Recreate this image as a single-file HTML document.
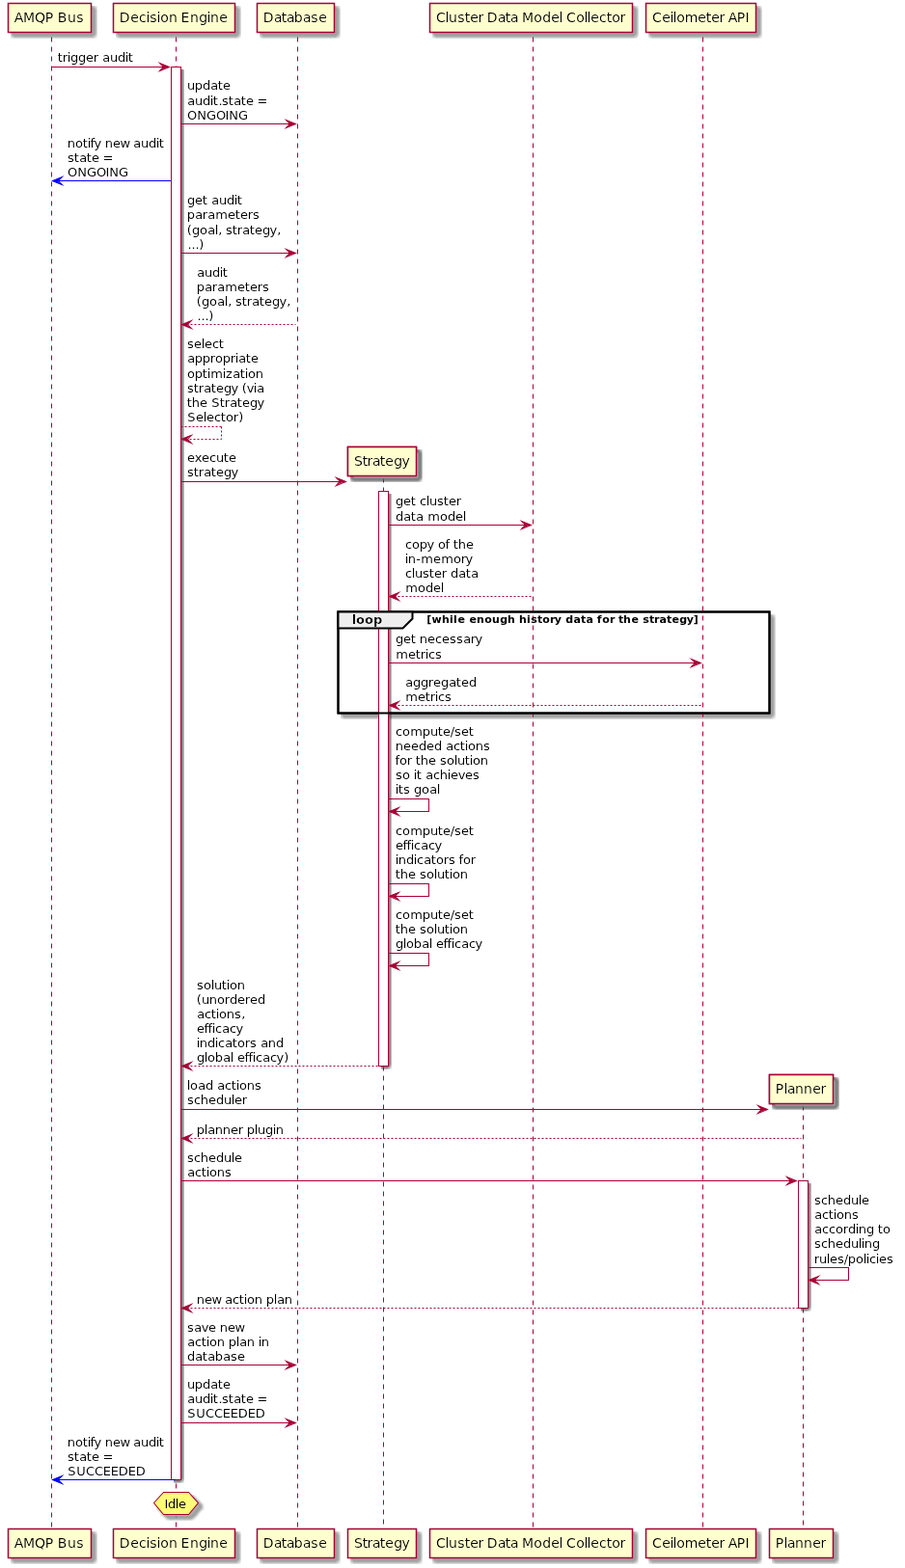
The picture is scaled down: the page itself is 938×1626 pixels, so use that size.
<!DOCTYPE html>
<html lang="en">
<head>
<meta charset="utf-8">
<title>Audit sequence diagram</title>
<style>
html,body{margin:0;padding:0;background:#fff;}
body{width:938px;height:1626px;overflow:hidden;}
svg{display:block;}
text{font-family:"DejaVu Sans","Liberation Sans",sans-serif;fill:#000;white-space:pre;}
.t14n{font-size:14px;}
.t13n{font-size:13px;}
.t13b{font-size:13px;font-weight:bold;}
.t11b{font-size:11px;font-weight:bold;}
</style>
</head>
<body>
<svg width="938" height="1626" viewBox="0 0 938 1626" role="img" aria-label="Audit sequence diagram">
<defs>
<filter id="s0" x="345" y="629" width="472" height="130" filterUnits="userSpaceOnUse" color-interpolation-filters="sRGB"><feOffset in="SourceAlpha" dx="4" dy="4"/><feConvolveMatrix order="6" kernelMatrix="1 1 1 1 1 1 1 1 1 1 1 1 1 1 1 1 1 1 1 1 1 1 1 1 1 1 1 1 1 1 1 1 1 1 1 1" divisor="36" targetX="3" targetY="3" edgeMode="none" preserveAlpha="false"/><feColorMatrix x="353" y="637" width="456" height="114" type="matrix" values="0 0 0 0.6667 0 0 0 0 0.6667 0 0 0 0 0.6667 0 0 0 0 1 0"/></filter>
<filter id="s1" x="172" y="64" width="29" height="1484" filterUnits="userSpaceOnUse" color-interpolation-filters="sRGB"><feOffset in="SourceAlpha" dx="1" dy="1"/><feConvolveMatrix order="6" kernelMatrix="1 1 1 1 1 1 1 1 1 1 1 1 1 1 1 1 1 1 1 1 1 1 1 1 1 1 1 1 1 1 1 1 1 1 1 1" divisor="36" targetX="3" targetY="3" edgeMode="none" preserveAlpha="false"/><feColorMatrix x="180" y="72" width="13" height="1468" type="matrix" values="0 0 0 0.6667 0 0 0 0 0.6667 0 0 0 0 0.6667 0 0 0 0 1 0"/></filter>
<filter id="s2" x="387" y="504" width="29" height="615" filterUnits="userSpaceOnUse" color-interpolation-filters="sRGB"><feOffset in="SourceAlpha" dx="1" dy="1"/><feConvolveMatrix order="6" kernelMatrix="1 1 1 1 1 1 1 1 1 1 1 1 1 1 1 1 1 1 1 1 1 1 1 1 1 1 1 1 1 1 1 1 1 1 1 1" divisor="36" targetX="3" targetY="3" edgeMode="none" preserveAlpha="false"/><feColorMatrix x="395" y="512" width="13" height="599" type="matrix" values="0 0 0 0.6667 0 0 0 0 0.6667 0 0 0 0 0.6667 0 0 0 0 1 0"/></filter>
<filter id="s3" x="822" y="1219" width="29" height="150" filterUnits="userSpaceOnUse" color-interpolation-filters="sRGB"><feOffset in="SourceAlpha" dx="1" dy="1"/><feConvolveMatrix order="6" kernelMatrix="1 1 1 1 1 1 1 1 1 1 1 1 1 1 1 1 1 1 1 1 1 1 1 1 1 1 1 1 1 1 1 1 1 1 1 1" divisor="36" targetX="3" targetY="3" edgeMode="none" preserveAlpha="false"/><feColorMatrix x="830" y="1227" width="13" height="134" type="matrix" values="0 0 0 0.6667 0 0 0 0 0.6667 0 0 0 0 0.6667 0 0 0 0 1 0"/></filter>
<filter id="s4" x="3" y="-2" width="111" height="55" filterUnits="userSpaceOnUse" color-interpolation-filters="sRGB"><feOffset in="SourceAlpha" dx="4" dy="4"/><feConvolveMatrix order="6" kernelMatrix="1 1 1 1 1 1 1 1 1 1 1 1 1 1 1 1 1 1 1 1 1 1 1 1 1 1 1 1 1 1 1 1 1 1 1 1" divisor="36" targetX="3" targetY="3" edgeMode="none" preserveAlpha="false"/><feColorMatrix x="11" y="6" width="95" height="39" type="matrix" values="0 0 0 0.6667 0 0 0 0 0.6667 0 0 0 0 0.6667 0 0 0 0 1 0"/></filter>
<filter id="s5" x="112" y="-2" width="151" height="55" filterUnits="userSpaceOnUse" color-interpolation-filters="sRGB"><feOffset in="SourceAlpha" dx="4" dy="4"/><feConvolveMatrix order="6" kernelMatrix="1 1 1 1 1 1 1 1 1 1 1 1 1 1 1 1 1 1 1 1 1 1 1 1 1 1 1 1 1 1 1 1 1 1 1 1" divisor="36" targetX="3" targetY="3" edgeMode="none" preserveAlpha="false"/><feColorMatrix x="120" y="6" width="135" height="39" type="matrix" values="0 0 0 0.6667 0 0 0 0 0.6667 0 0 0 0 0.6667 0 0 0 0 1 0"/></filter>
<filter id="s6" x="261" y="-2" width="105" height="55" filterUnits="userSpaceOnUse" color-interpolation-filters="sRGB"><feOffset in="SourceAlpha" dx="4" dy="4"/><feConvolveMatrix order="6" kernelMatrix="1 1 1 1 1 1 1 1 1 1 1 1 1 1 1 1 1 1 1 1 1 1 1 1 1 1 1 1 1 1 1 1 1 1 1 1" divisor="36" targetX="3" targetY="3" edgeMode="none" preserveAlpha="false"/><feColorMatrix x="269" y="6" width="89" height="39" type="matrix" values="0 0 0 0.6667 0 0 0 0 0.6667 0 0 0 0 0.6667 0 0 0 0 1 0"/></filter>
<filter id="s7" x="440" y="-2" width="235" height="55" filterUnits="userSpaceOnUse" color-interpolation-filters="sRGB"><feOffset in="SourceAlpha" dx="4" dy="4"/><feConvolveMatrix order="6" kernelMatrix="1 1 1 1 1 1 1 1 1 1 1 1 1 1 1 1 1 1 1 1 1 1 1 1 1 1 1 1 1 1 1 1 1 1 1 1" divisor="36" targetX="3" targetY="3" edgeMode="none" preserveAlpha="false"/><feColorMatrix x="448" y="6" width="219" height="39" type="matrix" values="0 0 0 0.6667 0 0 0 0 0.6667 0 0 0 0 0.6667 0 0 0 0 1 0"/></filter>
<filter id="s8" x="664" y="-2" width="139" height="55" filterUnits="userSpaceOnUse" color-interpolation-filters="sRGB"><feOffset in="SourceAlpha" dx="4" dy="4"/><feConvolveMatrix order="6" kernelMatrix="1 1 1 1 1 1 1 1 1 1 1 1 1 1 1 1 1 1 1 1 1 1 1 1 1 1 1 1 1 1 1 1 1 1 1 1" divisor="36" targetX="3" targetY="3" edgeMode="none" preserveAlpha="false"/><feColorMatrix x="672" y="6" width="123" height="39" type="matrix" values="0 0 0 0.6667 0 0 0 0 0.6667 0 0 0 0 0.6667 0 0 0 0 1 0"/></filter>
<filter id="s9" x="3" y="1580" width="111" height="55" filterUnits="userSpaceOnUse" color-interpolation-filters="sRGB"><feOffset in="SourceAlpha" dx="4" dy="4"/><feConvolveMatrix order="6" kernelMatrix="1 1 1 1 1 1 1 1 1 1 1 1 1 1 1 1 1 1 1 1 1 1 1 1 1 1 1 1 1 1 1 1 1 1 1 1" divisor="36" targetX="3" targetY="3" edgeMode="none" preserveAlpha="false"/><feColorMatrix x="11" y="1588" width="95" height="39" type="matrix" values="0 0 0 0.6667 0 0 0 0 0.6667 0 0 0 0 0.6667 0 0 0 0 1 0"/></filter>
<filter id="s10" x="112" y="1580" width="151" height="55" filterUnits="userSpaceOnUse" color-interpolation-filters="sRGB"><feOffset in="SourceAlpha" dx="4" dy="4"/><feConvolveMatrix order="6" kernelMatrix="1 1 1 1 1 1 1 1 1 1 1 1 1 1 1 1 1 1 1 1 1 1 1 1 1 1 1 1 1 1 1 1 1 1 1 1" divisor="36" targetX="3" targetY="3" edgeMode="none" preserveAlpha="false"/><feColorMatrix x="120" y="1588" width="135" height="39" type="matrix" values="0 0 0 0.6667 0 0 0 0 0.6667 0 0 0 0 0.6667 0 0 0 0 1 0"/></filter>
<filter id="s11" x="261" y="1580" width="105" height="55" filterUnits="userSpaceOnUse" color-interpolation-filters="sRGB"><feOffset in="SourceAlpha" dx="4" dy="4"/><feConvolveMatrix order="6" kernelMatrix="1 1 1 1 1 1 1 1 1 1 1 1 1 1 1 1 1 1 1 1 1 1 1 1 1 1 1 1 1 1 1 1 1 1 1 1" divisor="36" targetX="3" targetY="3" edgeMode="none" preserveAlpha="false"/><feColorMatrix x="269" y="1588" width="89" height="39" type="matrix" values="0 0 0 0.6667 0 0 0 0 0.6667 0 0 0 0 0.6667 0 0 0 0 1 0"/></filter>
<filter id="s12" x="355" y="1580" width="96" height="55" filterUnits="userSpaceOnUse" color-interpolation-filters="sRGB"><feOffset in="SourceAlpha" dx="4" dy="4"/><feConvolveMatrix order="6" kernelMatrix="1 1 1 1 1 1 1 1 1 1 1 1 1 1 1 1 1 1 1 1 1 1 1 1 1 1 1 1 1 1 1 1 1 1 1 1" divisor="36" targetX="3" targetY="3" edgeMode="none" preserveAlpha="false"/><feColorMatrix x="363" y="1588" width="80" height="39" type="matrix" values="0 0 0 0.6667 0 0 0 0 0.6667 0 0 0 0 0.6667 0 0 0 0 1 0"/></filter>
<filter id="s13" x="440" y="1580" width="235" height="55" filterUnits="userSpaceOnUse" color-interpolation-filters="sRGB"><feOffset in="SourceAlpha" dx="4" dy="4"/><feConvolveMatrix order="6" kernelMatrix="1 1 1 1 1 1 1 1 1 1 1 1 1 1 1 1 1 1 1 1 1 1 1 1 1 1 1 1 1 1 1 1 1 1 1 1" divisor="36" targetX="3" targetY="3" edgeMode="none" preserveAlpha="false"/><feColorMatrix x="448" y="1588" width="219" height="39" type="matrix" values="0 0 0 0.6667 0 0 0 0 0.6667 0 0 0 0 0.6667 0 0 0 0 1 0"/></filter>
<filter id="s14" x="664" y="1580" width="139" height="55" filterUnits="userSpaceOnUse" color-interpolation-filters="sRGB"><feOffset in="SourceAlpha" dx="4" dy="4"/><feConvolveMatrix order="6" kernelMatrix="1 1 1 1 1 1 1 1 1 1 1 1 1 1 1 1 1 1 1 1 1 1 1 1 1 1 1 1 1 1 1 1 1 1 1 1" divisor="36" targetX="3" targetY="3" edgeMode="none" preserveAlpha="false"/><feColorMatrix x="672" y="1588" width="123" height="39" type="matrix" values="0 0 0 0.6667 0 0 0 0 0.6667 0 0 0 0 0.6667 0 0 0 0 1 0"/></filter>
<filter id="s15" x="792" y="1580" width="91" height="55" filterUnits="userSpaceOnUse" color-interpolation-filters="sRGB"><feOffset in="SourceAlpha" dx="4" dy="4"/><feConvolveMatrix order="6" kernelMatrix="1 1 1 1 1 1 1 1 1 1 1 1 1 1 1 1 1 1 1 1 1 1 1 1 1 1 1 1 1 1 1 1 1 1 1 1" divisor="36" targetX="3" targetY="3" edgeMode="none" preserveAlpha="false"/><feColorMatrix x="800" y="1588" width="75" height="39" type="matrix" values="0 0 0 0.6667 0 0 0 0 0.6667 0 0 0 0 0.6667 0 0 0 0 1 0"/></filter>
<filter id="s16" x="355" y="458" width="96" height="55" filterUnits="userSpaceOnUse" color-interpolation-filters="sRGB"><feOffset in="SourceAlpha" dx="4" dy="4"/><feConvolveMatrix order="6" kernelMatrix="1 1 1 1 1 1 1 1 1 1 1 1 1 1 1 1 1 1 1 1 1 1 1 1 1 1 1 1 1 1 1 1 1 1 1 1" divisor="36" targetX="3" targetY="3" edgeMode="none" preserveAlpha="false"/><feColorMatrix x="363" y="466" width="80" height="39" type="matrix" values="0 0 0 0.6667 0 0 0 0 0.6667 0 0 0 0 0.6667 0 0 0 0 1 0"/></filter>
<filter id="s17" x="792" y="1109" width="91" height="55" filterUnits="userSpaceOnUse" color-interpolation-filters="sRGB"><feOffset in="SourceAlpha" dx="4" dy="4"/><feConvolveMatrix order="6" kernelMatrix="1 1 1 1 1 1 1 1 1 1 1 1 1 1 1 1 1 1 1 1 1 1 1 1 1 1 1 1 1 1 1 1 1 1 1 1" divisor="36" targetX="3" targetY="3" edgeMode="none" preserveAlpha="false"/><feColorMatrix x="800" y="1117" width="75" height="39" type="matrix" values="0 0 0 0.6667 0 0 0 0 0.6667 0 0 0 0 0.6667 0 0 0 0 1 0"/></filter>
<filter id="s18" x="154" y="1542" width="71" height="48" filterUnits="userSpaceOnUse" color-interpolation-filters="sRGB"><feOffset in="SourceAlpha" dx="4" dy="4"/><feConvolveMatrix order="6" kernelMatrix="1 1 1 1 1 1 1 1 1 1 1 1 1 1 1 1 1 1 1 1 1 1 1 1 1 1 1 1 1 1 1 1 1 1 1 1" divisor="36" targetX="3" targetY="3" edgeMode="none" preserveAlpha="false"/><feColorMatrix x="162" y="1550" width="55" height="32" type="matrix" values="0 0 0 0.6667 0 0 0 0 0.6667 0 0 0 0 0.6667 0 0 0 0 1 0"/></filter>
<filter id="g11b" x="345" y="628" width="460" height="30" filterUnits="userSpaceOnUse" color-interpolation-filters="sRGB"><feComponentTransfer><feFuncA type="gamma" amplitude="1" exponent="0.95" offset="0"/></feComponentTransfer></filter>
<filter id="g13b" x="345" y="628" width="460" height="30" filterUnits="userSpaceOnUse" color-interpolation-filters="sRGB"><feComponentTransfer><feFuncA type="gamma" amplitude="1" exponent="2" offset="0"/></feComponentTransfer></filter>
<filter id="g13n" x="0" y="0" width="938" height="1626" filterUnits="userSpaceOnUse" color-interpolation-filters="sRGB"><feComponentTransfer><feFuncA type="gamma" amplitude="1" exponent="1.2" offset="0"/></feComponentTransfer></filter>
<filter id="g14n" x="0" y="0" width="938" height="1626" filterUnits="userSpaceOnUse" color-interpolation-filters="sRGB"><feComponentTransfer><feFuncA type="gamma" amplitude="1" exponent="1.4" offset="0"/></feComponentTransfer></filter>
</defs>
<rect x="0" y="0" width="938" height="1626" fill="#FFFFFF"/>
<rect x="350" y="634" width="447" height="105" filter="url(#s0)"/>
<rect x="350" y="634.148" width="447" height="105.731" fill="#FFFFFF"/>
<rect x="350.5" y="634.5" width="447" height="105" fill="none" stroke="#000000" stroke-width="2"/>
<line x1="53.5" y1="38.5" x2="53.5" y2="1585.5" stroke="#A80036" stroke-dasharray="5,5"/>
<line x1="182.5" y1="38.5" x2="182.5" y2="1585.5" stroke="#A80036" stroke-dasharray="5,5"/>
<line x1="308.5" y1="38.5" x2="308.5" y2="1585.5" stroke="#A80036" stroke-dasharray="5,5"/>
<line x1="397.5" y1="495.5" x2="397.5" y2="1585.5" stroke="#A80036" stroke-dasharray="5,5"/>
<line x1="552.5" y1="38.5" x2="552.5" y2="1585.5" stroke="#A80036" stroke-dasharray="5,5"/>
<line x1="728.5" y1="38.5" x2="728.5" y2="1585.5" stroke="#A80036" stroke-dasharray="5,5"/>
<line x1="832.5" y1="1146.5" x2="832.5" y2="1585.5" stroke="#A80036" stroke-dasharray="5,5"/>
<rect x="177" y="69" width="10" height="1465" filter="url(#s1)"/>
<rect x="177" y="69.297" width="10" height="1465.231" fill="#FFFFFF"/>
<rect x="177.5" y="69.5" width="10" height="1465" fill="none" stroke="#A80036"/>
<rect x="392" y="509" width="10" height="596" filter="url(#s2)"/>
<rect x="392.5" y="509.086" width="10" height="596.388" fill="#FFFFFF"/>
<rect x="392.5" y="509.5" width="10" height="596" fill="none" stroke="#A80036"/>
<rect x="827" y="1224" width="10" height="132" filter="url(#s3)"/>
<rect x="827" y="1224.669" width="10" height="131.93" fill="#FFFFFF"/>
<rect x="827.5" y="1224.5" width="10" height="132" fill="none" stroke="#A80036"/>
<rect x="177" y="69" width="10" height="1465" filter="url(#s1)"/>
<rect x="177" y="69.297" width="10" height="1465.231" fill="#FFFFFF"/>
<rect x="177.5" y="69.5" width="10" height="1465" fill="none" stroke="#A80036"/>
<rect x="392" y="509" width="10" height="596" filter="url(#s2)"/>
<rect x="392.5" y="509.086" width="10" height="596.388" fill="#FFFFFF"/>
<rect x="392.5" y="509.5" width="10" height="596" fill="none" stroke="#A80036"/>
<rect x="827" y="1224" width="10" height="132" filter="url(#s3)"/>
<rect x="827" y="1224.669" width="10" height="131.93" fill="#FFFFFF"/>
<rect x="827.5" y="1224.5" width="10" height="132" fill="none" stroke="#A80036"/>
<rect x="8" y="3" width="86" height="30" filter="url(#s4)"/>
<rect x="8" y="3" width="86" height="30.297" fill="#FEFECE"/>
<rect x="8.5" y="3.5" width="86" height="30" fill="none" stroke="#A80036" stroke-width="1.5"/>
<rect x="117" y="3" width="126" height="30" filter="url(#s5)"/>
<rect x="117" y="3" width="126" height="30.297" fill="#FEFECE"/>
<rect x="117.5" y="3.5" width="126" height="30" fill="none" stroke="#A80036" stroke-width="1.5"/>
<rect x="266" y="3" width="80" height="30" filter="url(#s6)"/>
<rect x="266" y="3" width="80" height="30.297" fill="#FEFECE"/>
<rect x="266.5" y="3.5" width="80" height="30" fill="none" stroke="#A80036" stroke-width="1.5"/>
<rect x="445" y="3" width="210" height="30" filter="url(#s7)"/>
<rect x="445" y="3" width="210" height="30.297" fill="#FEFECE"/>
<rect x="445.5" y="3.5" width="210" height="30" fill="none" stroke="#A80036" stroke-width="1.5"/>
<rect x="669" y="3" width="114" height="30" filter="url(#s8)"/>
<rect x="669" y="3" width="114" height="30.297" fill="#FEFECE"/>
<rect x="669.5" y="3.5" width="114" height="30" fill="none" stroke="#A80036" stroke-width="1.5"/>
<rect x="8" y="1585" width="86" height="30" filter="url(#s9)"/>
<rect x="8" y="1585.059" width="86" height="30.297" fill="#FEFECE"/>
<rect x="8.5" y="1585.5" width="86" height="30" fill="none" stroke="#A80036" stroke-width="1.5"/>
<rect x="117" y="1585" width="126" height="30" filter="url(#s10)"/>
<rect x="117" y="1585.059" width="126" height="30.297" fill="#FEFECE"/>
<rect x="117.5" y="1585.5" width="126" height="30" fill="none" stroke="#A80036" stroke-width="1.5"/>
<rect x="266" y="1585" width="80" height="30" filter="url(#s11)"/>
<rect x="266" y="1585.059" width="80" height="30.297" fill="#FEFECE"/>
<rect x="266.5" y="1585.5" width="80" height="30" fill="none" stroke="#A80036" stroke-width="1.5"/>
<rect x="360" y="1585" width="71" height="30" filter="url(#s12)"/>
<rect x="360" y="1585.059" width="71" height="30.297" fill="#FEFECE"/>
<rect x="360.5" y="1585.5" width="71" height="30" fill="none" stroke="#A80036" stroke-width="1.5"/>
<rect x="445" y="1585" width="210" height="30" filter="url(#s13)"/>
<rect x="445" y="1585.059" width="210" height="30.297" fill="#FEFECE"/>
<rect x="445.5" y="1585.5" width="210" height="30" fill="none" stroke="#A80036" stroke-width="1.5"/>
<rect x="669" y="1585" width="114" height="30" filter="url(#s14)"/>
<rect x="669" y="1585.059" width="114" height="30.297" fill="#FEFECE"/>
<rect x="669.5" y="1585.5" width="114" height="30" fill="none" stroke="#A80036" stroke-width="1.5"/>
<rect x="797" y="1585" width="66" height="30" filter="url(#s15)"/>
<rect x="797" y="1585.059" width="66" height="30.297" fill="#FEFECE"/>
<rect x="797.5" y="1585.5" width="66" height="30" fill="none" stroke="#A80036" stroke-width="1.5"/>
<rect x="360" y="463" width="71" height="30" filter="url(#s16)"/>
<rect x="360" y="463.086" width="71" height="30.297" fill="#FEFECE"/>
<rect x="360.5" y="463.5" width="71" height="30" fill="none" stroke="#A80036" stroke-width="1.5"/>
<rect x="797" y="1114" width="66" height="30" filter="url(#s17)"/>
<rect x="797" y="1114.27" width="66" height="30.297" fill="#FEFECE"/>
<rect x="797.5" y="1114.5" width="66" height="30" fill="none" stroke="#A80036" stroke-width="1.5"/>
<rect x="360" y="463" width="71" height="30" filter="url(#s16)"/>
<rect x="360" y="463.086" width="71" height="30.297" fill="#FEFECE"/>
<rect x="360.5" y="463.5" width="71" height="30" fill="none" stroke="#A80036" stroke-width="1.5"/>
<rect x="797" y="1114" width="66" height="30" filter="url(#s17)"/>
<rect x="797" y="1114.27" width="66" height="30.297" fill="#FEFECE"/>
<rect x="797.5" y="1114.5" width="66" height="30" fill="none" stroke="#A80036" stroke-width="1.5"/>
<rect x="350.5" y="634.5" width="447" height="105" fill="none" stroke="#000000" stroke-width="2"/>
<polygon points="350,634.148 427,634.148 427,641.281 417,651.281 350,651.281" fill="#EEEEEE"/>
<polygon points="350.5,634.5 427.5,634.5 427.5,641.5 417.5,651.5 350.5,651.5" fill="none" stroke="#000000" stroke-width="2" stroke-miterlimit="10"/>
<polygon points="165,65.297 175,69.297 165,73.297 169,69.297" fill="#A80036"/>
<polygon points="165.5,65.5 175.5,69.5 165.5,73.5 169.5,69.5" fill="none" stroke="#A80036" stroke-width="1.02" stroke-miterlimit="10"/>
<line x1="53.5" y1="69.5" x2="174.5" y2="69.5" stroke="#A80036" stroke-linecap="square"/>
<polygon points="296,124.43 306,128.43 296,132.43 300,128.43" fill="#A80036"/>
<polygon points="296.5,124.5 306.5,128.5 296.5,132.5 300.5,128.5" fill="none" stroke="#A80036" stroke-width="1.02" stroke-miterlimit="10"/>
<line x1="187.5" y1="128.5" x2="305.5" y2="128.5" stroke="#A80036" stroke-linecap="square"/>
<polygon points="64,183.828 54,187.828 64,191.828 60,187.828" fill="#0000FF"/>
<polygon points="64.5,183.5 54.5,187.5 64.5,191.5 60.5,187.5" fill="none" stroke="#0000FF" stroke-width="1.02" stroke-miterlimit="10"/>
<line x1="55.5" y1="187.5" x2="176.5" y2="187.5" stroke="#0000FF" stroke-linecap="square"/>
<polygon points="296,258.227 306,262.227 296,266.227 300,262.227" fill="#A80036"/>
<polygon points="296.5,258.5 306.5,262.5 296.5,266.5 300.5,262.5" fill="none" stroke="#A80036" stroke-width="1.02" stroke-miterlimit="10"/>
<line x1="187.5" y1="262.5" x2="305.5" y2="262.5" stroke="#A80036" stroke-linecap="square"/>
<polygon points="198,332.758 188,336.758 198,340.758 194,336.758" fill="#A80036"/>
<polygon points="198.5,332.5 188.5,336.5 198.5,340.5 194.5,336.5" fill="none" stroke="#A80036" stroke-width="1.02" stroke-miterlimit="10"/>
<line x1="189.5" y1="336.5" x2="306.5" y2="336.5" stroke="#A80036" stroke-dasharray="2,2"/>
<line x1="187.5" y1="442.5" x2="229.5" y2="442.5" stroke="#A80036" stroke-dasharray="2,2"/>
<line x1="229.5" y1="442.5" x2="229.5" y2="455.5" stroke="#A80036" stroke-dasharray="2,2"/>
<line x1="188.5" y1="455.5" x2="229.5" y2="455.5" stroke="#A80036" stroke-dasharray="2,2"/>
<polygon points="198,451.086 188,455.086 198,459.086 194,455.086" fill="#A80036"/>
<polygon points="198.5,451.5 188.5,455.5 198.5,459.5 194.5,455.5" fill="none" stroke="#A80036" stroke-width="1.02" stroke-miterlimit="10"/>
<polygon points="348,495.086 358,499.086 348,503.086 352,499.086" fill="#A80036"/>
<polygon points="348.5,495.5 358.5,499.5 348.5,503.5 352.5,499.5" fill="none" stroke="#A80036" stroke-width="1.02" stroke-miterlimit="10"/>
<line x1="187.5" y1="499.5" x2="357.5" y2="499.5" stroke="#A80036" stroke-linecap="square"/>
<polygon points="540,540.352 550,544.352 540,548.352 544,544.352" fill="#A80036"/>
<polygon points="540.5,540.5 550.5,544.5 540.5,548.5 544.5,544.5" fill="none" stroke="#A80036" stroke-width="1.02" stroke-miterlimit="10"/>
<line x1="402.5" y1="544.5" x2="549.5" y2="544.5" stroke="#A80036" stroke-linecap="square"/>
<polygon points="413.5,614.617 403.5,618.617 413.5,622.617 409.5,618.617" fill="#A80036"/>
<polygon points="413.5,614.5 403.5,618.5 413.5,622.5 409.5,618.5" fill="none" stroke="#A80036" stroke-width="1.02" stroke-miterlimit="10"/>
<line x1="404.5" y1="618.5" x2="550.5" y2="618.5" stroke="#A80036" stroke-dasharray="2,2"/>
<polygon points="716,683.348 726,687.348 716,691.348 720,687.348" fill="#A80036"/>
<polygon points="716.5,683.5 726.5,687.5 716.5,691.5 720.5,687.5" fill="none" stroke="#A80036" stroke-width="1.02" stroke-miterlimit="10"/>
<line x1="402.5" y1="687.5" x2="725.5" y2="687.5" stroke="#A80036" stroke-linecap="square"/>
<polygon points="413.5,727.614 403.5,731.614 413.5,735.614 409.5,731.614" fill="#A80036"/>
<polygon points="413.5,727.5 403.5,731.5 413.5,735.5 409.5,731.5" fill="none" stroke="#A80036" stroke-width="1.02" stroke-miterlimit="10"/>
<line x1="404.5" y1="731.5" x2="726.5" y2="731.5" stroke="#A80036" stroke-dasharray="2,2"/>
<line x1="402.5" y1="828.5" x2="444.5" y2="828.5" stroke="#A80036" stroke-linecap="square"/>
<line x1="444.5" y1="828.5" x2="444.5" y2="841.5" stroke="#A80036" stroke-linecap="square"/>
<line x1="403.5" y1="841.5" x2="444.5" y2="841.5" stroke="#A80036" stroke-linecap="square"/>
<polygon points="413.5,837.544 403.5,841.544 413.5,845.544 409.5,841.544" fill="#A80036"/>
<polygon points="413.5,837.5 403.5,841.5 413.5,845.5 409.5,841.5" fill="none" stroke="#A80036" stroke-width="1.02" stroke-miterlimit="10"/>
<line x1="402.5" y1="916.5" x2="444.5" y2="916.5" stroke="#A80036" stroke-linecap="square"/>
<line x1="444.5" y1="916.5" x2="444.5" y2="929.5" stroke="#A80036" stroke-linecap="square"/>
<line x1="403.5" y1="929.5" x2="444.5" y2="929.5" stroke="#A80036" stroke-linecap="square"/>
<polygon points="413.5,925.075 403.5,929.075 413.5,933.075 409.5,929.075" fill="#A80036"/>
<polygon points="413.5,925.5 403.5,929.5 413.5,933.5 409.5,929.5" fill="none" stroke="#A80036" stroke-width="1.02" stroke-miterlimit="10"/>
<line x1="402.5" y1="988.5" x2="444.5" y2="988.5" stroke="#A80036" stroke-linecap="square"/>
<line x1="444.5" y1="988.5" x2="444.5" y2="1001.5" stroke="#A80036" stroke-linecap="square"/>
<line x1="403.5" y1="1001.5" x2="444.5" y2="1001.5" stroke="#A80036" stroke-linecap="square"/>
<polygon points="413.5,997.473 403.5,1001.473 413.5,1005.473 409.5,1001.473" fill="#A80036"/>
<polygon points="413.5,997.5 403.5,1001.5 413.5,1005.5 409.5,1001.5" fill="none" stroke="#A80036" stroke-width="1.02" stroke-miterlimit="10"/>
<polygon points="198,1101.473 188,1105.473 198,1109.473 194,1105.473" fill="#A80036"/>
<polygon points="198.5,1101.5 188.5,1105.5 198.5,1109.5 194.5,1105.5" fill="none" stroke="#A80036" stroke-width="1.02" stroke-miterlimit="10"/>
<line x1="189.5" y1="1105.5" x2="396.5" y2="1105.5" stroke="#A80036" stroke-dasharray="2,2"/>
<polygon points="785,1146.27 795,1150.27 785,1154.27 789,1150.27" fill="#A80036"/>
<polygon points="785.5,1146.5 795.5,1150.5 785.5,1154.5 789.5,1150.5" fill="none" stroke="#A80036" stroke-width="1.02" stroke-miterlimit="10"/>
<line x1="187.5" y1="1150.5" x2="794.5" y2="1150.5" stroke="#A80036" stroke-linecap="square"/>
<polygon points="198,1176.536 188,1180.536 198,1184.536 194,1180.536" fill="#A80036"/>
<polygon points="198.5,1176.5 188.5,1180.5 198.5,1184.5 194.5,1180.5" fill="none" stroke="#A80036" stroke-width="1.02" stroke-miterlimit="10"/>
<line x1="189.5" y1="1180.5" x2="830.5" y2="1180.5" stroke="#A80036" stroke-dasharray="2,2"/>
<polygon points="815,1220.669 825,1224.669 815,1228.669 819,1224.669" fill="#A80036"/>
<polygon points="815.5,1220.5 825.5,1224.5 815.5,1228.5 819.5,1224.5" fill="none" stroke="#A80036" stroke-width="1.02" stroke-miterlimit="10"/>
<line x1="187.5" y1="1224.5" x2="824.5" y2="1224.5" stroke="#A80036" stroke-linecap="square"/>
<line x1="837.5" y1="1314.5" x2="879.5" y2="1314.5" stroke="#A80036" stroke-linecap="square"/>
<line x1="879.5" y1="1314.5" x2="879.5" y2="1327.5" stroke="#A80036" stroke-linecap="square"/>
<line x1="838.5" y1="1327.5" x2="879.5" y2="1327.5" stroke="#A80036" stroke-linecap="square"/>
<polygon points="848,1323.598 838,1327.598 848,1331.598 844,1327.598" fill="#A80036"/>
<polygon points="848.5,1323.5 838.5,1327.5 848.5,1331.5 844.5,1327.5" fill="none" stroke="#A80036" stroke-width="1.02" stroke-miterlimit="10"/>
<polygon points="198,1352.598 188,1356.598 198,1360.598 194,1356.598" fill="#A80036"/>
<polygon points="198.5,1352.5 188.5,1356.5 198.5,1360.5 194.5,1356.5" fill="none" stroke="#A80036" stroke-width="1.02" stroke-miterlimit="10"/>
<line x1="189.5" y1="1356.5" x2="831.5" y2="1356.5" stroke="#A80036" stroke-dasharray="2,2"/>
<polygon points="296,1411.731 306,1415.731 296,1419.731 300,1415.731" fill="#A80036"/>
<polygon points="296.5,1411.5 306.5,1415.5 296.5,1419.5 300.5,1415.5" fill="none" stroke="#A80036" stroke-width="1.02" stroke-miterlimit="10"/>
<line x1="187.5" y1="1415.5" x2="305.5" y2="1415.5" stroke="#A80036" stroke-linecap="square"/>
<polygon points="296,1471.13 306,1475.13 296,1479.13 300,1475.13" fill="#A80036"/>
<polygon points="296.5,1471.5 306.5,1475.5 296.5,1479.5 300.5,1475.5" fill="none" stroke="#A80036" stroke-width="1.02" stroke-miterlimit="10"/>
<line x1="187.5" y1="1475.5" x2="305.5" y2="1475.5" stroke="#A80036" stroke-linecap="square"/>
<polygon points="64,1530.528 54,1534.528 64,1538.528 60,1534.528" fill="#0000FF"/>
<polygon points="64.5,1530.5 54.5,1534.5 64.5,1538.5 60.5,1534.5" fill="none" stroke="#0000FF" stroke-width="1.02" stroke-miterlimit="10"/>
<line x1="55.5" y1="1534.5" x2="181.5" y2="1534.5" stroke="#0000FF" stroke-linecap="square"/>
<polygon points="169,1547 195,1547 205,1558 195,1570 169,1570 159,1558" shape-rendering="crispEdges" filter="url(#s18)"/>
<polygon points="169,1547.927 195,1547.927 205,1558.927 195,1570.927 169,1570.927 159,1558.927" fill="#FBFB77"/>
<polygon points="169.5,1547.5 195.5,1547.5 205.5,1558.5 195.5,1570.5 169.5,1570.5 159.5,1558.5" fill="none" stroke="#A80036" stroke-width="1.02" stroke-miterlimit="10"/>
<g class="t11b" filter="url(#g11b)">
<text x="442.25 447.5 458 466 470 474.5 482 486.5 494 502.25 510 518.25 526 534 538 546 550.25 557 562.25 570 574.75 582 586.25 594.5 602 607.5 615 618.75 624.25 632 637 641 646 654.5 662 666.25 673 678 683.5 691 696.5 704.25 711.75 718.75" y="646">[while enough history data for the strategy]</text>
</g>
<g class="t13b" filter="url(#g13b)">
<text x="364.75 369 378 387" y="647">loop</text>
</g>
<g class="t13n" filter="url(#g13n)">
<text x="59.75 64.75 69.75 73 81 89 96.75 102 106.25 114 122 129.75 132.75" y="64">trigger audit</text>
<text x="194 201.75 210 218.25 225.75 231" y="93">update</text>
<text x="194.25 202 210 217.75 220.75 226.5 230 236.75 242.25 249.75 255 263 266.5" y="109">audit.state =</text>
<text x="194 204.25 214 224 233.5 237.25 247" y="124">ONGOING</text>
<text x="69.75 78 85.75 90.75 93.5 97.5 105 108.75 117 124.5 134 138.25 146 154 161.75 164.75" y="153">notify new audit</text>
<text x="70 76.75 82.25 89.75 95 103 106.5" y="168">state =</text>
<text x="70 80.25 90 100 109.5 113.25 123" y="183">ONGOING</text>
<text x="194 202 209.75 215 219.25 227 235 242.75 245.75" y="212">get audit</text>
<text x="193.75 202.25 209.75 215.25 223.25 236 243.75 249 256.75 262" y="227">parameters</text>
<text x="193.75 199 207 215.25 222.75 226.25 230 234 240.75 245.75 251.25 258.75 264 272 279.5 287.25" y="243">(goal, strategy,</text>
<text x="194.5 198.5 202.5 206.25" y="258">...)</text>
<text x="204.25 212 220 227.75 230.75" y="287">audit</text>
<text x="203.75 212.25 219.75 225.25 233.25 246 253.75 259 266.75 272" y="302">parameters</text>
<text x="203.75 209 217 225.25 232.75 236.25 240 244 250.75 255.75 261.25 268.75 274 282 289.5 297.25" y="317">(goal, strategy,</text>
<text x="204.5 208.5 212.5 216.25" y="332">...)</text>
<text x="194 201 208.75 212 220 226.75" y="361">select</text>
<text x="194.25 201.75 209.75 217.75 223 230.75 238.75 243.75 247.25 254.75 260" y="376">appropriate</text>
<text x="194 201.75 209.75 214.75 218.25 230.75 234 241.25 248.75 253.75 257 264.75" y="392">optimization</text>
<text x="194 200.75 205.75 211.25 218.75 224 232 239.5 247 250.75 255.75 262.75 266.25" y="407">strategy (via</text>
<text x="193.75 198.75 207 215 219.25 227.75 232.75 238.25 245.75 251 259 266.5" y="422">the Strategy</text>
<text x="194.25 203 210.75 214 222 228.75 234 241.75 247.25" y="437">Selector)</text>
<text x="194 201.75 209 217 224 231.75 237" y="479">execute</text>
<text x="194 200.75 205.75 211.25 218.75 224 232 239.5" y="494">strategy</text>
<text x="410 418 425.75 431 435 441.75 445 453 459.75 465 472.75" y="524">get cluster</text>
<text x="410 418.25 425.75 431.25 439 443.25 456 464 472 479.75" y="540">data model</text>
<text x="420 427 434.75 442.5 450 454 461.5 466 469.75 474.75 483" y="569">copy of the</text>
<text x="419.75 422.75 431.25 436.25 449 457.25 470 477.75 482.5" y="584">in-memory</text>
<text x="420 426.75 430 438 444.75 450 457.75 463 467 475.25 482.75 488.25" y="599">cluster data</text>
<text x="420.25 433 441 449 456.75" y="614">model</text>
<text x="410 418 425.75 431 434.75 443 451 458 466 473 480.25 487.75 492.5" y="667">get necessary</text>
<text x="410.25 423 430.75 435.75 440.75 444 451" y="683">metrics</text>
<text x="420.25 428 436 443.75 449 457 465.25 472.75 478 486" y="712">aggregated</text>
<text x="420.25 433 440.75 445.75 450.75 454 461" y="727">metrics</text>
<text x="410 417 425.25 437.75 446 453.75 459 466.75 471 478 485.75" y="763">compute/set</text>
<text x="409.75 418 426 434 442 450 458 462.25 470 476.75 481.75 485 492.75 501" y="778">needed actions</text>
<text x="409.5 414 421.75 427 430.75 435.75 444 452 456 463 470.75 474 481.75 486.75 490 497.75" y="793">for the solution</text>
<text x="410 417 425 428.75 431.75 437 441.25 449 455.75 463.75 467 474.75 482 490" y="808">so it achieves</text>
<text x="409.75 412.75 418 425 429 437 445.25 452.75" y="823">its goal</text>
<text x="410 417 425.25 437.75 446 453.75 459 466.75 471 478 485.75" y="866">compute/set</text>
<text x="410 417.5 421.5 425.75 429 436.25 444 450.5" y="881">efficacy</text>
<text x="409.75 412.75 421 428.75 432 439.25 446.75 452 459.75 465 472 475.5 480 487.75" y="896">indicators for</text>
<text x="409.75 414.75 423 431 435 442 449.75 453 460.75 465.75 469 476.75" y="911">the solution</text>
<text x="410 417 425.25 437.75 446 453.75 459 466.75 471 478 485.75" y="953">compute/set</text>
<text x="409.75 414.75 423 431 435 442 449.75 453 460.75 465.75 469 476.75" y="968">the solution</text>
<text x="410 417.75 421 428.75 437.25 444.75 448 452 459.5 463.5 467.75 471 478.25 486 492.5" y="983">global efficacy</text>
<text x="204 211 218.75 222 229.75 234.75 238 245.75" y="1026">solution</text>
<text x="203.75 209 216.75 225 232.75 238 246 253.75 259 267" y="1041">(unordered</text>
<text x="204.25 212 218.75 223.75 227 234.75 243 250.25" y="1056">actions,</text>
<text x="204 211.5 215.5 219.75 223 230.25 238 244.5" y="1071">efficacy</text>
<text x="203.75 206.75 215 222.75 226 233.25 240.75 246 253.75 259 266 270.25 277.75 286" y="1086">indicators and</text>
<text x="204 211.75 215 222.75 231.25 238.75 242 246 253.5 257.5 261.75 265 272.25 280 286.5 294.25" y="1101">global efficacy)</text>
<text x="193.75 197 205.25 213 221 225.25 233 239.75 244.75 248 255.75 264" y="1130">load actions</text>
<text x="194 201 207.75 216 224 232 239.75 243 250.75" y="1145">scheduler</text>
<text x="203.75 211.75 215.25 222.75 230.75 239 246.75 252 255.75 263.75 267 275 282.75 285.75" y="1176">planner plugin</text>
<text x="194 201 207.75 216 224 232 239.75 243" y="1205">schedule</text>
<text x="194.25 202 208.75 213.75 217 224.75 233" y="1220">actions</text>
<text x="844 851 857.75 866 874 882 889.75 893" y="1249">schedule</text>
<text x="844.25 852 858.75 863.75 867 874.75 883" y="1264">actions</text>
<text x="844.25 852 859 866 873.75 879 886.75 889.75 898 906 909.75 915" y="1279">according to</text>
<text x="844 851 857.75 866 874 882 889.75 892.75 895.75 904" y="1294">scheduling</text>
<text x="843.75 849 856.75 860 868 874.75 878.75 887 894.75 897.75 901 907.75 911 919" y="1310">rules/policies</text>
<text x="203.75 212 219.5 229 233.25 241 247.75 252.75 256 263.75 272 275.75 283.75 287.25 294.75" y="1352">new action plan</text>
<text x="194 201.25 208.75 216 224 227.75 236 243.5" y="1381">save new</text>
<text x="194.25 202 208.75 213.75 217 224.75 233 236.75 244.75 248.25 255.75 264 267.75 270.75" y="1396">action plan in</text>
<text x="194 202.25 209.75 215.25 222.75 231.25 239 246" y="1411">database</text>
<text x="194 201.75 210 218.25 225.75 231" y="1440">update</text>
<text x="194.25 202 210 217.75 220.75 226.5 230 236.75 242.25 249.75 255 263 266.5" y="1455">audit.state =</text>
<text x="194.25 203.25 213 222 230.75 238.75 246.75 256.75 264.75" y="1470">SUCCEEDED</text>
<text x="69.75 78 85.75 90.75 93.5 97.5 105 108.75 117 124.5 134 138.25 146 154 161.75 164.75" y="1500">notify new audit</text>
<text x="70 76.75 82.25 89.75 95 103 106.5" y="1515">state =</text>
<text x="70.25 79.25 89 98 106.75 114.75 122.75 132.75 140.75" y="1530">SUCCEEDED</text>
<text x="170.5 174 181.75 185" y="1564">Idle</text>
</g>
<g class="t14n" filter="url(#g14n)">
<text x="14.75 24 36 46.75 56 59.75 70 79.25" y="23">AMQP Bus</text>
<text x="123.75 135.25 144 151.5 155.25 162.5 166.25 175 184 187.5 197 206.25 214.5 218 227.25" y="23">Decision Engine</text>
<text x="272.75 284 291.75 297 304.75 314 322.25 330.25" y="23">Database</text>
<text x="452 461.5 465 474.25 481.75 487.25 495.5 501 504.75 516 523.75 529 537 541 553.25 562.25 571.25 579.5 583 587 597.25 605.5 608.5 612.25 621 628.75 634.25 642.5" y="23">Cluster Data Model Collector</text>
<text x="676 686.25 694.5 697.5 701.25 709.75 723.25 731.75 737.25 745.5 751 754.75 763.75 772.5" y="23">Ceilometer API</text>
<text x="14.75 24 36 46.75 56 59.75 70 79.25" y="1605">AMQP Bus</text>
<text x="123.75 135.25 144 151.5 155.25 162.5 166.25 175 184 187.5 197 206.25 214.5 218 227.25" y="1605">Decision Engine</text>
<text x="272.75 284 291.75 297 304.75 314 322.25 330.25" y="1605">Database</text>
<text x="367 375.75 380.5 386 393.75 399.25 408.25 416.5" y="1605">Strategy</text>
<text x="452 461.5 465 474.25 481.75 487.25 495.5 501 504.75 516 523.75 529 537 541 553.25 562.25 571.25 579.5 583 587 597.25 605.5 608.5 612.25 621 628.75 634.25 642.5" y="1605">Cluster Data Model Collector</text>
<text x="676 686.25 694.5 697.5 701.25 709.75 723.25 731.75 737.25 745.5 751 754.75 763.75 772.5" y="1605">Ceilometer API</text>
<text x="803.75 812.5 816 824 833 842.25 850.5" y="1605">Planner</text>
<text x="367 375.75 380.5 386 393.75 399.25 408.25 416.5" y="483">Strategy</text>
<text x="803.75 812.5 816 824 833 842.25 850.5" y="1134">Planner</text>
</g>
</svg>
</body>
</html>
